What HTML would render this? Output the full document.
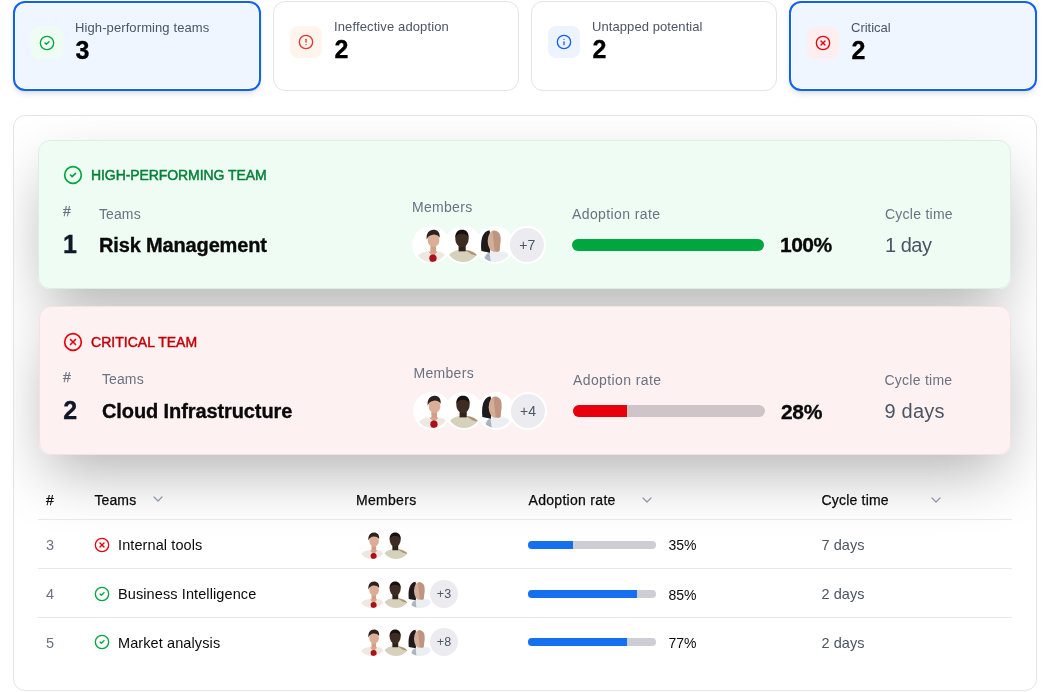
<!DOCTYPE html>
<html><head><meta charset="utf-8"><title>Teams</title><style>
*{box-sizing:content-box;margin:0;padding:0}
html,body{width:1050px;height:692px;overflow:hidden;background:#fff}
body{position:relative;font-family:"Liberation Sans", sans-serif;-webkit-font-smoothing:antialiased}
.t{position:absolute;white-space:nowrap}
.ic{position:absolute;display:block}
.card{position:absolute;border:1px solid #e4e4e7;border-radius:12px;background:#fff}
.card.sel{border:2px solid #0d62f2;background:#eff6ff;box-shadow:inset 0 0 0 1px #fff,0 4px 6px -1px rgba(0,0,0,.1),0 2px 4px -2px rgba(0,0,0,.1)}
.ibox{position:absolute;width:32px;height:32px;border-radius:8px}
.panel{position:absolute;left:13px;top:115px;width:1022px;height:574px;border:1px solid #e4e4e7;border-radius:12px;overflow:hidden;background:#fff}
.inner{position:absolute;left:-14px;top:-116px;width:1050px;height:692px}
.tc{position:absolute;border:1px solid transparent;border-radius:12px;box-sizing:border-box}
.tcs{position:absolute;border-radius:12px;box-shadow:0 25px 60px -8px rgba(0,0,0,.3)}
.av{position:absolute;border-radius:50%;overflow:hidden;background:#fff}
.av svg{display:block}
.more{background:#ebebf0;color:#4a5565;text-align:center}
.bar{position:absolute;overflow:hidden}
.bar div{border-radius:0}
.hl{position:absolute;left:38px;width:974px;height:1px;background:#e8e8ea}
</style></head>
<body>
<div class="card sel" style="left:13px;top:1px;width:244px;height:86px"></div>
<div class="card" style="left:273px;top:1px;width:244px;height:88px"></div>
<div class="card" style="left:531px;top:1px;width:244px;height:88px"></div>
<div class="card sel" style="left:789px;top:1px;width:244px;height:86px"></div>
<div class="ibox" style="left:31px;top:27px;background:#effcf3"></div>
<svg class="ic" style="left:39.00px;top:35.00px" width="16" height="16" viewBox="0 0 24 24" fill="none" stroke="#00a63e" stroke-width="2" stroke-linecap="round" stroke-linejoin="round"><circle cx="12" cy="12" r="10"/><path d="m9 12 2 2 4-4"/></svg>
<div class="ibox" style="left:290px;top:26px;background:#fff5ed"></div>
<svg class="ic" style="left:298.00px;top:34.00px" width="16" height="16" viewBox="0 0 24 24" fill="none" stroke="#e7352f" stroke-width="2" stroke-linecap="round" stroke-linejoin="round"><circle cx="12" cy="12" r="10"/><line x1="12" x2="12" y1="8" y2="12"/><line x1="12" x2="12.01" y1="16" y2="16"/></svg>
<div class="ibox" style="left:548px;top:26px;background:#edf4ff"></div>
<svg class="ic" style="left:556.00px;top:34.00px" width="16" height="16" viewBox="0 0 24 24" fill="none" stroke="#155dfc" stroke-width="2" stroke-linecap="round" stroke-linejoin="round"><circle cx="12" cy="12" r="10"/><path d="M12 16v-4"/><path d="M12 8h.01"/></svg>
<div class="ibox" style="left:807px;top:27px;background:#fdeff0"></div>
<svg class="ic" style="left:815.00px;top:35.00px" width="16" height="16" viewBox="0 0 24 24" fill="none" stroke="#e7000b" stroke-width="2" stroke-linecap="round" stroke-linejoin="round"><circle cx="12" cy="12" r="10"/><path d="m15 9-6 6"/><path d="m9 9 6 6"/></svg>
<div class="t" style="left:75.00px;top:20.20px;font-size:13px;line-height:16px;color:#4a5565;letter-spacing:0.1px;">High-performing teams</div>
<div class="t" style="left:75.50px;top:34.94px;font-size:25px;line-height:30px;font-weight:700;color:#000;-webkit-text-stroke:0.35px currentColor;">3</div>
<div class="t" style="left:334.00px;top:19.40px;font-size:13px;line-height:16px;color:#4a5565;letter-spacing:0.12px;">Ineffective adoption</div>
<div class="t" style="left:334.50px;top:34.14px;font-size:25px;line-height:30px;font-weight:700;color:#000;-webkit-text-stroke:0.35px currentColor;">2</div>
<div class="t" style="left:592.00px;top:19.40px;font-size:13px;line-height:16px;color:#4a5565;letter-spacing:0.08px;">Untapped potential</div>
<div class="t" style="left:592.50px;top:34.14px;font-size:25px;line-height:30px;font-weight:700;color:#000;-webkit-text-stroke:0.35px currentColor;">2</div>
<div class="t" style="left:851.00px;top:20.20px;font-size:13px;line-height:16px;color:#4a5565;">Critical</div>
<div class="t" style="left:851.50px;top:34.94px;font-size:25px;line-height:30px;font-weight:700;color:#000;-webkit-text-stroke:0.35px currentColor;">2</div>
<div class="panel"><div class="inner">
<div class="tcs" style="left:38px;top:140px;width:973px;height:149px"></div>
<div class="tcs" style="left:38.5px;top:306px;width:972.5px;height:149px"></div>
<div class="tc" style="left:38px;top:140px;width:973px;height:149px;background:#effcf3;border-color:#dcefe2"></div>
<svg class="ic" style="left:62.90px;top:165.30px" width="20" height="20" viewBox="0 0 24 24" fill="none" stroke="#00a63e" stroke-width="2" stroke-linecap="round" stroke-linejoin="round"><circle cx="12" cy="12" r="10"/><path d="m9 12 2 2 4-4"/></svg>
<div class="t" style="left:91.00px;top:167.45px;font-size:14px;line-height:17px;color:#008236;letter-spacing:-0.08px;-webkit-text-stroke:0.45px currentColor;">HIGH-PERFORMING TEAM</div>
<div class="t" style="left:63.00px;top:203.45px;font-size:14px;line-height:17px;color:#6a7282;-webkit-text-stroke:0.25px currentColor;">#</div>
<div class="t" style="left:99.00px;top:206.35px;font-size:14px;line-height:17px;color:#6a7282;letter-spacing:0.1px;">Teams</div>
<div class="t" style="left:63.00px;top:229.24px;font-size:25px;line-height:30px;font-weight:700;color:#101828;-webkit-text-stroke:0.35px currentColor;">1</div>
<div class="t" style="left:99.00px;top:232.67px;font-size:20px;line-height:24px;font-weight:700;color:#0a0a0a;letter-spacing:-0.15px;-webkit-text-stroke:0.35px currentColor;">Risk Management</div>
<div class="t" style="left:412.00px;top:199.25px;font-size:14px;line-height:17px;color:#6a7282;letter-spacing:0.3px;">Members</div>
<div class="av" style="left:414.2px;top:228px;width:34px;height:34px;box-shadow:0 0 0 2px #fff"><svg width="34" height="34" viewBox="0 0 40 40"><rect width="40" height="40" fill="#fff"/><path d="M2 40 C3 32 8 28.5 15 27.5 L22.5 33 L29 27.5 C35 28.5 38.5 32 39 40 Z" fill="#efe8e1"/><rect x="19.3" y="20" width="6.6" height="9" fill="#cf9f86"/><path d="M16.5 27.5 L22.5 33.5 L28 27.5 Z" fill="#d6a68d"/><ellipse cx="23" cy="14.2" rx="6.9" ry="8.4" fill="#dcae96"/><path d="M15 13.5 C14 6 18 2 22.8 2 C27.5 2 30.8 5 30.2 11.5 C28.5 8.6 25.5 7.6 22.3 7.8 C18.8 8 16.4 10 15 13.5 Z" fill="#2b2220"/><circle cx="22.3" cy="35.6" r="4.3" fill="#a8121a"/></svg></div>
<div class="av" style="left:446.2px;top:228px;width:34px;height:34px;box-shadow:0 0 0 2px #fff"><svg width="34" height="34" viewBox="0 0 40 40"><rect width="40" height="40" fill="#fff"/><path d="M0 40 C1 31 8 26.5 16 26 C18 27.5 22 27.5 24 26 C31 26.5 38 30 40 40 Z" fill="#d6d1ba"/><path d="M22 26 C28 26.5 34 28.5 37 33 L30 31 Z" fill="#ad9574"/><rect x="14.8" y="19" width="8.4" height="8.5" fill="#30231b"/><ellipse cx="18.8" cy="12.6" rx="7.9" ry="9.9" fill="#3d2c22"/><path d="M10.9 12 C10.6 5 14.2 2 18.8 2 C23.7 2 27 5 26.7 12 C25.2 8 22.2 6.8 18.8 6.8 C15.2 6.8 12.4 8 10.9 12 Z" fill="#161110"/></svg></div>
<div class="av" style="left:478.2px;top:228px;width:34px;height:34px;box-shadow:0 0 0 2px #fff"><svg width="34" height="34" viewBox="0 0 40 40"><rect width="40" height="40" fill="#fff"/><path d="M5 40 C6 32 10 28.5 17 27.5 L30 27.5 C35 28.5 38 32 38.5 40 Z" fill="#eceff2"/><path d="M7.5 40 C7.5 34 9.5 30.5 13.5 28.5 L15 40 Z" fill="#aab3c0"/><path d="M4 27 C2.5 15 5 3.5 13.5 2.6 C15.5 8.5 15 18 14 29 Z" fill="#1d1b1b"/><ellipse cx="19" cy="15.5" rx="7.6" ry="12.8" fill="#d3ae99"/><path d="M17 4 C22 2.5 26.5 5 26.5 12 L25.5 27 C23 29 20 28.5 19.5 26 Z" fill="#c09580"/></svg></div>
<div class="av more" style="left:510.2px;top:228px;width:34px;height:34px;box-shadow:0 0 0 2px #fff;font-size:14px;line-height:34px">+7</div>
<div class="t" style="left:572.00px;top:206.25px;font-size:14px;line-height:17px;color:#6a7282;letter-spacing:0.4px;">Adoption rate</div>
<div class="bar" style="left:572px;top:239px;width:192px;height:12px;background:#d1d5dc;border-radius:6.0px"><div style="width:192.0px;height:12px;background:#00a63e"></div></div>
<div class="t" style="left:780.00px;top:232.42px;font-size:21px;line-height:25px;font-weight:700;color:#0a0a0a;letter-spacing:-0.5px;-webkit-text-stroke:0.35px currentColor;">100%</div>
<div class="t" style="left:885.00px;top:206.15px;font-size:14px;line-height:17px;color:#6a7282;letter-spacing:0.25px;">Cycle time</div>
<div class="t" style="left:885.00px;top:232.97px;font-size:20px;line-height:24px;color:#4a5565;letter-spacing:-0.5px;">1 day</div>
<div class="tc" style="left:38.5px;top:306px;width:972.5px;height:149px;background:#fef1f1;border-color:#f5e1e1"></div>
<svg class="ic" style="left:62.90px;top:331.70px" width="20" height="20" viewBox="0 0 24 24" fill="none" stroke="#e7000b" stroke-width="2" stroke-linecap="round" stroke-linejoin="round"><circle cx="12" cy="12" r="10"/><path d="m15 9-6 6"/><path d="m9 9 6 6"/></svg>
<div class="t" style="left:91.00px;top:333.75px;font-size:14px;line-height:17px;color:#c10007;letter-spacing:0.03px;-webkit-text-stroke:0.45px currentColor;">CRITICAL TEAM</div>
<div class="t" style="left:63.00px;top:369.05px;font-size:14px;line-height:17px;color:#6a7282;-webkit-text-stroke:0.25px currentColor;">#</div>
<div class="t" style="left:102.00px;top:371.15px;font-size:14px;line-height:17px;color:#6a7282;letter-spacing:0.1px;">Teams</div>
<div class="t" style="left:63.30px;top:395.34px;font-size:25px;line-height:30px;font-weight:700;color:#101828;-webkit-text-stroke:0.35px currentColor;">2</div>
<div class="t" style="left:102.00px;top:398.97px;font-size:20px;line-height:24px;font-weight:700;color:#0a0a0a;letter-spacing:-0.1px;-webkit-text-stroke:0.35px currentColor;">Cloud Infrastructure</div>
<div class="t" style="left:413.50px;top:365.25px;font-size:14px;line-height:17px;color:#6a7282;letter-spacing:0.3px;">Members</div>
<div class="av" style="left:415px;top:394px;width:34px;height:34px;box-shadow:0 0 0 2px #fff"><svg width="34" height="34" viewBox="0 0 40 40"><rect width="40" height="40" fill="#fff"/><path d="M2 40 C3 32 8 28.5 15 27.5 L22.5 33 L29 27.5 C35 28.5 38.5 32 39 40 Z" fill="#efe8e1"/><rect x="19.3" y="20" width="6.6" height="9" fill="#cf9f86"/><path d="M16.5 27.5 L22.5 33.5 L28 27.5 Z" fill="#d6a68d"/><ellipse cx="23" cy="14.2" rx="6.9" ry="8.4" fill="#dcae96"/><path d="M15 13.5 C14 6 18 2 22.8 2 C27.5 2 30.8 5 30.2 11.5 C28.5 8.6 25.5 7.6 22.3 7.8 C18.8 8 16.4 10 15 13.5 Z" fill="#2b2220"/><circle cx="22.3" cy="35.6" r="4.3" fill="#a8121a"/></svg></div>
<div class="av" style="left:447px;top:394px;width:34px;height:34px;box-shadow:0 0 0 2px #fff"><svg width="34" height="34" viewBox="0 0 40 40"><rect width="40" height="40" fill="#fff"/><path d="M0 40 C1 31 8 26.5 16 26 C18 27.5 22 27.5 24 26 C31 26.5 38 30 40 40 Z" fill="#d6d1ba"/><path d="M22 26 C28 26.5 34 28.5 37 33 L30 31 Z" fill="#ad9574"/><rect x="14.8" y="19" width="8.4" height="8.5" fill="#30231b"/><ellipse cx="18.8" cy="12.6" rx="7.9" ry="9.9" fill="#3d2c22"/><path d="M10.9 12 C10.6 5 14.2 2 18.8 2 C23.7 2 27 5 26.7 12 C25.2 8 22.2 6.8 18.8 6.8 C15.2 6.8 12.4 8 10.9 12 Z" fill="#161110"/></svg></div>
<div class="av" style="left:479px;top:394px;width:34px;height:34px;box-shadow:0 0 0 2px #fff"><svg width="34" height="34" viewBox="0 0 40 40"><rect width="40" height="40" fill="#fff"/><path d="M5 40 C6 32 10 28.5 17 27.5 L30 27.5 C35 28.5 38 32 38.5 40 Z" fill="#eceff2"/><path d="M7.5 40 C7.5 34 9.5 30.5 13.5 28.5 L15 40 Z" fill="#aab3c0"/><path d="M4 27 C2.5 15 5 3.5 13.5 2.6 C15.5 8.5 15 18 14 29 Z" fill="#1d1b1b"/><ellipse cx="19" cy="15.5" rx="7.6" ry="12.8" fill="#d3ae99"/><path d="M17 4 C22 2.5 26.5 5 26.5 12 L25.5 27 C23 29 20 28.5 19.5 26 Z" fill="#c09580"/></svg></div>
<div class="av more" style="left:511px;top:394px;width:34px;height:34px;box-shadow:0 0 0 2px #fff;font-size:14px;line-height:34px">+4</div>
<div class="t" style="left:573.00px;top:371.65px;font-size:14px;line-height:17px;color:#6a7282;letter-spacing:0.4px;">Adoption rate</div>
<div class="bar" style="left:573px;top:405px;width:192px;height:12px;background:#cfc5c8;border-radius:6.0px"><div style="width:53.76px;height:12px;background:#e7000b"></div></div>
<div class="t" style="left:781.00px;top:398.52px;font-size:21px;line-height:25px;font-weight:700;color:#0a0a0a;letter-spacing:-0.35px;-webkit-text-stroke:0.35px currentColor;">28%</div>
<div class="t" style="left:884.50px;top:371.65px;font-size:14px;line-height:17px;color:#6a7282;letter-spacing:0.25px;">Cycle time</div>
<div class="t" style="left:884.50px;top:398.97px;font-size:20px;line-height:24px;color:#4a5565;letter-spacing:0.2px;">9 days</div>
<div class="t" style="left:46.00px;top:491.85px;font-size:14px;line-height:17px;color:#0a0a0a;-webkit-text-stroke:0.25px currentColor;">#</div>
<div class="t" style="left:94.50px;top:491.85px;font-size:14px;line-height:17px;color:#0a0a0a;letter-spacing:0.1px;-webkit-text-stroke:0.25px currentColor;">Teams</div>
<svg class="ic" style="left:150.3px;top:491.3px" width="16" height="16" viewBox="0 0 24 24" fill="none" stroke="#8e97a6" stroke-width="1.8" stroke-linecap="round" stroke-linejoin="round"><path d="m6 9 6 6 6-6"/></svg>
<div class="t" style="left:356.00px;top:491.95px;font-size:14px;line-height:17px;color:#0a0a0a;letter-spacing:0.3px;-webkit-text-stroke:0.25px currentColor;">Members</div>
<div class="t" style="left:528.50px;top:491.85px;font-size:14px;line-height:17px;color:#0a0a0a;letter-spacing:0.3px;-webkit-text-stroke:0.25px currentColor;">Adoption rate</div>
<svg class="ic" style="left:638.5px;top:491.5px" width="16" height="16" viewBox="0 0 24 24" fill="none" stroke="#8e97a6" stroke-width="1.8" stroke-linecap="round" stroke-linejoin="round"><path d="m6 9 6 6 6-6"/></svg>
<div class="t" style="left:821.50px;top:491.85px;font-size:14px;line-height:17px;color:#0a0a0a;letter-spacing:0.2px;-webkit-text-stroke:0.25px currentColor;">Cycle time</div>
<svg class="ic" style="left:927.5px;top:491.5px" width="16" height="16" viewBox="0 0 24 24" fill="none" stroke="#8e97a6" stroke-width="1.8" stroke-linecap="round" stroke-linejoin="round"><path d="m6 9 6 6 6-6"/></svg>
<div class="hl" style="top:519px"></div>
<div class="hl" style="top:568px"></div>
<div class="hl" style="top:617px"></div>
<div class="t" style="left:46.00px;top:537.28px;font-size:14.5px;line-height:17px;color:#6a7282;">3</div>
<svg class="ic" style="left:94.00px;top:537.00px" width="16" height="16" viewBox="0 0 24 24" fill="none" stroke="#e7000b" stroke-width="2" stroke-linecap="round" stroke-linejoin="round"><circle cx="12" cy="12" r="10"/><path d="m15 9-6 6"/><path d="m9 9 6 6"/></svg>
<div class="t" style="left:118.00px;top:537.28px;font-size:14.5px;line-height:17px;color:#0a0a0a;letter-spacing:0.1px;">Internal tools</div>
<div class="av" style="left:358px;top:531.0px;width:28px;height:28px;box-shadow:0 0 0 1.5px #fff"><svg width="28" height="28" viewBox="0 0 40 40"><rect width="40" height="40" fill="#fff"/><path d="M2 40 C3 32 8 28.5 15 27.5 L22.5 33 L29 27.5 C35 28.5 38.5 32 39 40 Z" fill="#efe8e1"/><rect x="19.3" y="20" width="6.6" height="9" fill="#cf9f86"/><path d="M16.5 27.5 L22.5 33.5 L28 27.5 Z" fill="#d6a68d"/><ellipse cx="23" cy="14.2" rx="6.9" ry="8.4" fill="#dcae96"/><path d="M15 13.5 C14 6 18 2 22.8 2 C27.5 2 30.8 5 30.2 11.5 C28.5 8.6 25.5 7.6 22.3 7.8 C18.8 8 16.4 10 15 13.5 Z" fill="#2b2220"/><circle cx="22.3" cy="35.6" r="4.3" fill="#a8121a"/></svg></div>
<div class="av" style="left:382px;top:531.0px;width:28px;height:28px;box-shadow:0 0 0 1.5px #fff"><svg width="28" height="28" viewBox="0 0 40 40"><rect width="40" height="40" fill="#fff"/><path d="M0 40 C1 31 8 26.5 16 26 C18 27.5 22 27.5 24 26 C31 26.5 38 30 40 40 Z" fill="#d6d1ba"/><path d="M22 26 C28 26.5 34 28.5 37 33 L30 31 Z" fill="#ad9574"/><rect x="14.8" y="19" width="8.4" height="8.5" fill="#30231b"/><ellipse cx="18.8" cy="12.6" rx="7.9" ry="9.9" fill="#3d2c22"/><path d="M10.9 12 C10.6 5 14.2 2 18.8 2 C23.7 2 27 5 26.7 12 C25.2 8 22.2 6.8 18.8 6.8 C15.2 6.8 12.4 8 10.9 12 Z" fill="#161110"/></svg></div>
<div class="bar" style="left:528px;top:541.0px;width:128px;height:8px;background:#cdced3;border-radius:4.0px"><div style="width:44.8px;height:8px;background:#1570ef"></div></div>
<div class="t" style="left:668.50px;top:537.45px;font-size:14px;line-height:17px;color:#0a0a0a;">35%</div>
<div class="t" style="left:821.50px;top:537.28px;font-size:14.5px;line-height:17px;color:#4a5565;letter-spacing:0.05px;">7 days</div>
<div class="t" style="left:46.00px;top:586.48px;font-size:14.5px;line-height:17px;color:#6a7282;">4</div>
<svg class="ic" style="left:94.00px;top:585.60px" width="16" height="16" viewBox="0 0 24 24" fill="none" stroke="#00a63e" stroke-width="2" stroke-linecap="round" stroke-linejoin="round"><circle cx="12" cy="12" r="10"/><path d="m9 12 2 2 4-4"/></svg>
<div class="t" style="left:118.00px;top:586.48px;font-size:14.5px;line-height:17px;color:#0a0a0a;letter-spacing:0.1px;">Business Intelligence</div>
<div class="av" style="left:358px;top:579.6px;width:28px;height:28px;box-shadow:0 0 0 1.5px #fff"><svg width="28" height="28" viewBox="0 0 40 40"><rect width="40" height="40" fill="#fff"/><path d="M2 40 C3 32 8 28.5 15 27.5 L22.5 33 L29 27.5 C35 28.5 38.5 32 39 40 Z" fill="#efe8e1"/><rect x="19.3" y="20" width="6.6" height="9" fill="#cf9f86"/><path d="M16.5 27.5 L22.5 33.5 L28 27.5 Z" fill="#d6a68d"/><ellipse cx="23" cy="14.2" rx="6.9" ry="8.4" fill="#dcae96"/><path d="M15 13.5 C14 6 18 2 22.8 2 C27.5 2 30.8 5 30.2 11.5 C28.5 8.6 25.5 7.6 22.3 7.8 C18.8 8 16.4 10 15 13.5 Z" fill="#2b2220"/><circle cx="22.3" cy="35.6" r="4.3" fill="#a8121a"/></svg></div>
<div class="av" style="left:382px;top:579.6px;width:28px;height:28px;box-shadow:0 0 0 1.5px #fff"><svg width="28" height="28" viewBox="0 0 40 40"><rect width="40" height="40" fill="#fff"/><path d="M0 40 C1 31 8 26.5 16 26 C18 27.5 22 27.5 24 26 C31 26.5 38 30 40 40 Z" fill="#d6d1ba"/><path d="M22 26 C28 26.5 34 28.5 37 33 L30 31 Z" fill="#ad9574"/><rect x="14.8" y="19" width="8.4" height="8.5" fill="#30231b"/><ellipse cx="18.8" cy="12.6" rx="7.9" ry="9.9" fill="#3d2c22"/><path d="M10.9 12 C10.6 5 14.2 2 18.8 2 C23.7 2 27 5 26.7 12 C25.2 8 22.2 6.8 18.8 6.8 C15.2 6.8 12.4 8 10.9 12 Z" fill="#161110"/></svg></div>
<div class="av" style="left:406px;top:579.6px;width:28px;height:28px;box-shadow:0 0 0 1.5px #fff"><svg width="28" height="28" viewBox="0 0 40 40"><rect width="40" height="40" fill="#fff"/><path d="M5 40 C6 32 10 28.5 17 27.5 L30 27.5 C35 28.5 38 32 38.5 40 Z" fill="#eceff2"/><path d="M7.5 40 C7.5 34 9.5 30.5 13.5 28.5 L15 40 Z" fill="#aab3c0"/><path d="M4 27 C2.5 15 5 3.5 13.5 2.6 C15.5 8.5 15 18 14 29 Z" fill="#1d1b1b"/><ellipse cx="19" cy="15.5" rx="7.6" ry="12.8" fill="#d3ae99"/><path d="M17 4 C22 2.5 26.5 5 26.5 12 L25.5 27 C23 29 20 28.5 19.5 26 Z" fill="#c09580"/></svg></div>
<div class="av more" style="left:430px;top:579.6px;width:28px;height:28px;box-shadow:0 0 0 1.5px #fff;font-size:12.5px;line-height:28px">+3</div>
<div class="bar" style="left:528px;top:589.6px;width:128px;height:8px;background:#cdced3;border-radius:4.0px"><div style="width:108.8px;height:8px;background:#1570ef"></div></div>
<div class="t" style="left:668.50px;top:586.65px;font-size:14px;line-height:17px;color:#0a0a0a;">85%</div>
<div class="t" style="left:821.50px;top:586.48px;font-size:14.5px;line-height:17px;color:#4a5565;letter-spacing:0.05px;">2 days</div>
<div class="t" style="left:46.00px;top:635.18px;font-size:14.5px;line-height:17px;color:#6a7282;">5</div>
<svg class="ic" style="left:94.00px;top:634.40px" width="16" height="16" viewBox="0 0 24 24" fill="none" stroke="#00a63e" stroke-width="2" stroke-linecap="round" stroke-linejoin="round"><circle cx="12" cy="12" r="10"/><path d="m9 12 2 2 4-4"/></svg>
<div class="t" style="left:118.00px;top:635.18px;font-size:14.5px;line-height:17px;color:#0a0a0a;letter-spacing:0.1px;">Market analysis</div>
<div class="av" style="left:358px;top:628.4px;width:28px;height:28px;box-shadow:0 0 0 1.5px #fff"><svg width="28" height="28" viewBox="0 0 40 40"><rect width="40" height="40" fill="#fff"/><path d="M2 40 C3 32 8 28.5 15 27.5 L22.5 33 L29 27.5 C35 28.5 38.5 32 39 40 Z" fill="#efe8e1"/><rect x="19.3" y="20" width="6.6" height="9" fill="#cf9f86"/><path d="M16.5 27.5 L22.5 33.5 L28 27.5 Z" fill="#d6a68d"/><ellipse cx="23" cy="14.2" rx="6.9" ry="8.4" fill="#dcae96"/><path d="M15 13.5 C14 6 18 2 22.8 2 C27.5 2 30.8 5 30.2 11.5 C28.5 8.6 25.5 7.6 22.3 7.8 C18.8 8 16.4 10 15 13.5 Z" fill="#2b2220"/><circle cx="22.3" cy="35.6" r="4.3" fill="#a8121a"/></svg></div>
<div class="av" style="left:382px;top:628.4px;width:28px;height:28px;box-shadow:0 0 0 1.5px #fff"><svg width="28" height="28" viewBox="0 0 40 40"><rect width="40" height="40" fill="#fff"/><path d="M0 40 C1 31 8 26.5 16 26 C18 27.5 22 27.5 24 26 C31 26.5 38 30 40 40 Z" fill="#d6d1ba"/><path d="M22 26 C28 26.5 34 28.5 37 33 L30 31 Z" fill="#ad9574"/><rect x="14.8" y="19" width="8.4" height="8.5" fill="#30231b"/><ellipse cx="18.8" cy="12.6" rx="7.9" ry="9.9" fill="#3d2c22"/><path d="M10.9 12 C10.6 5 14.2 2 18.8 2 C23.7 2 27 5 26.7 12 C25.2 8 22.2 6.8 18.8 6.8 C15.2 6.8 12.4 8 10.9 12 Z" fill="#161110"/></svg></div>
<div class="av" style="left:406px;top:628.4px;width:28px;height:28px;box-shadow:0 0 0 1.5px #fff"><svg width="28" height="28" viewBox="0 0 40 40"><rect width="40" height="40" fill="#fff"/><path d="M5 40 C6 32 10 28.5 17 27.5 L30 27.5 C35 28.5 38 32 38.5 40 Z" fill="#eceff2"/><path d="M7.5 40 C7.5 34 9.5 30.5 13.5 28.5 L15 40 Z" fill="#aab3c0"/><path d="M4 27 C2.5 15 5 3.5 13.5 2.6 C15.5 8.5 15 18 14 29 Z" fill="#1d1b1b"/><ellipse cx="19" cy="15.5" rx="7.6" ry="12.8" fill="#d3ae99"/><path d="M17 4 C22 2.5 26.5 5 26.5 12 L25.5 27 C23 29 20 28.5 19.5 26 Z" fill="#c09580"/></svg></div>
<div class="av more" style="left:430px;top:628.4px;width:28px;height:28px;box-shadow:0 0 0 1.5px #fff;font-size:12.5px;line-height:28px">+8</div>
<div class="bar" style="left:528px;top:638.4px;width:128px;height:8px;background:#cdced3;border-radius:4.0px"><div style="width:98.56px;height:8px;background:#1570ef"></div></div>
<div class="t" style="left:668.50px;top:635.35px;font-size:14px;line-height:17px;color:#0a0a0a;">77%</div>
<div class="t" style="left:821.50px;top:635.18px;font-size:14.5px;line-height:17px;color:#4a5565;letter-spacing:0.05px;">2 days</div>
</div></div>
</body></html>
